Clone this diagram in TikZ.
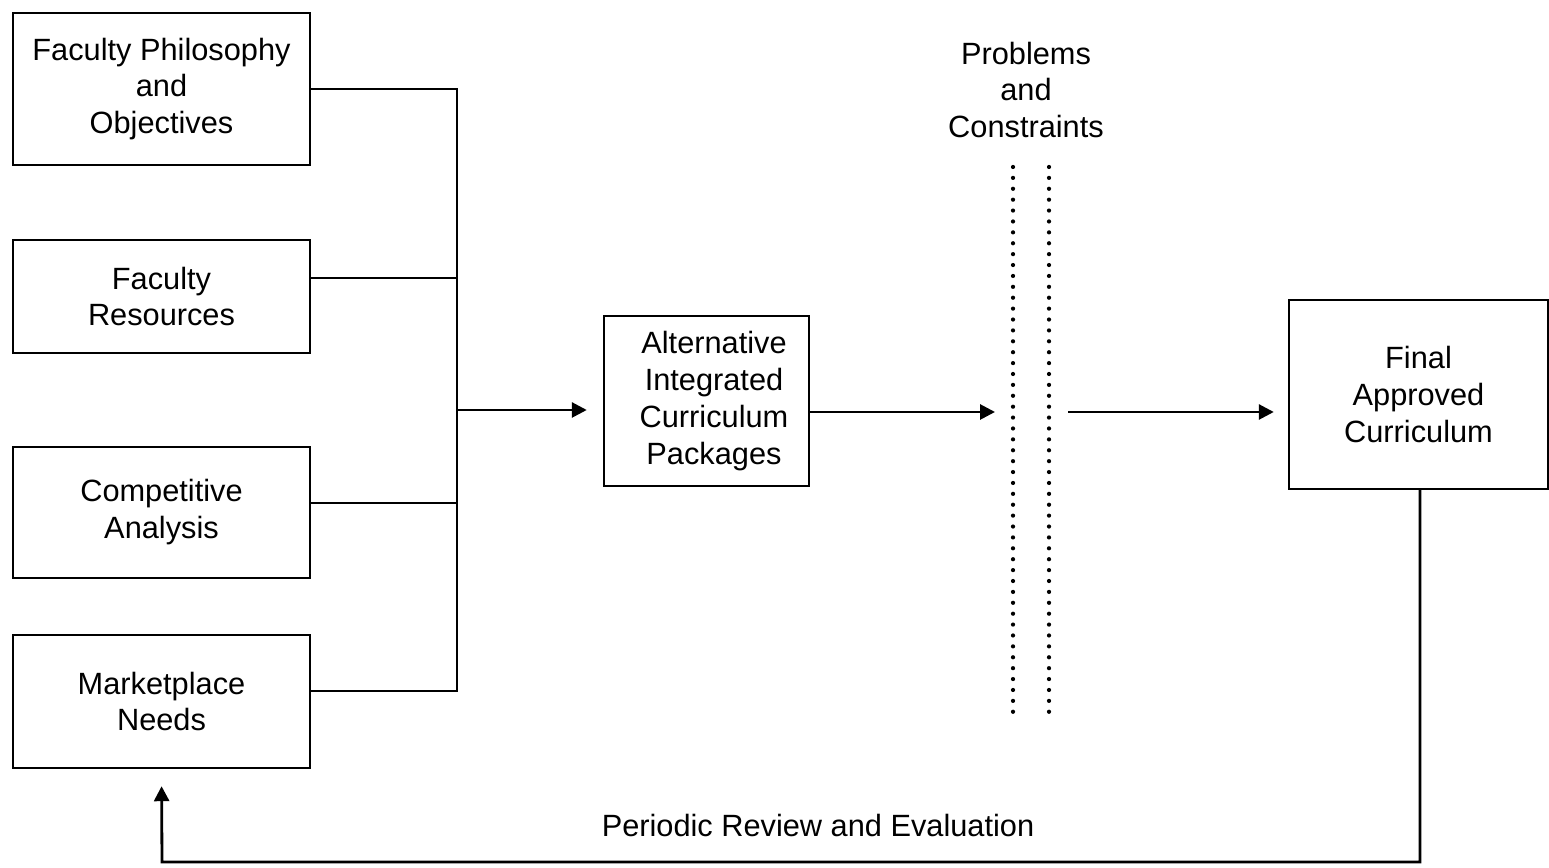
\documentclass[tikz,border=0pt]{standalone}
\usepackage{fontspec}
\setmainfont{Liberation Sans}
\usepackage{tikz}
\usetikzlibrary{arrows.meta,calc,positioning}

\tikzset{
	box/.style={draw,line width=1.4pt,align=center,inner sep=0pt,
		font=\fontsize{17.5}{21}\selectfont},
	lbl/.style={align=center,font=\fontsize{17.5}{21}\selectfont},
	arr/.style={line width=1.6pt,-{Triangle[length=0.3cm,width=0.3cm]}},
	wire/.style={line width=1.6pt},
	dots/.style={line width=2.4pt,line cap=round,dash pattern=on 0pt off 6.2pt}
}

\begin{document}
\begin{tikzpicture}
	\useasboundingbox (0,0) rectangle (30.98,17.36);
	% inputs
	\node[box,minimum width=5.94cm,minimum height=3.04cm] (phil) at (3.23,15.58) {Faculty Philosophy\\and\\Objectives};
	\node[box,minimum width=5.94cm,minimum height=2.26cm] (res) at (3.23,11.43) {Faculty\\Resources};
	\node[box,minimum width=5.94cm,minimum height=2.62cm] (comp) at (3.23,7.11) {Competitive\\Analysis};
	\node[box,minimum width=5.94cm,minimum height=2.66cm] (mkt) at (3.23,3.33) {Marketplace\\Needs};
	\node[box,minimum width=4.1cm,minimum height=3.4cm] (alt) at (14.13,9.34) {\hspace*{0.3cm}Alternative\\\hspace*{0.3cm}Integrated\\\hspace*{0.3cm}Curriculum\\\hspace*{0.3cm}Packages};
	\node[box,minimum width=5.18cm,minimum height=3.78cm] (final) at (28.37,9.47) {Final\\Approved\\Curriculum};
	
	% bus
	\coordinate (b1) at (9.14,15.58);
	\coordinate (b2) at (9.14,11.8);
	\coordinate (b3) at (9.14,7.3);
	\coordinate (b4) at (9.14,3.54);
	\coordinate (bm) at (9.14,9.16);
	\draw[wire] (phil.east |- b1) -- (b1) -- (b4) -- (mkt.east |- b4);
	\draw[wire] (res.east |- b2) -- (b2);
	\draw[wire] (comp.east |- b3) -- (b3);
	\draw[arr,shorten >=0.32cm] (bm) -- (alt.west |- bm);
	
	% problems and constraints
	\node[lbl] (prob) at (20.52,15.56) {Problems\\and\\Constraints};
	\draw[dots] (20.26,14.02) -- (20.26,3.06);
	\draw[dots] (20.98,14.02) -- (20.98,3.06);
	\coordinate (wallL) at (19.9,9.12);
	\coordinate (wallR) at (21.36,9.12);
	\draw[arr] (alt.east |- wallL) -- (wallL);
	\draw[arr,shorten >=0.28cm] (wallR) -- (final.west |- wallR);
	
	% feedback
	\coordinate (fb) at (3.24,0.12);
	\draw[arr,shorten >=0.34cm] (final.south -| 28.4,0) |- (fb) -- (mkt.south);
	\node[lbl] (rev) at (16.36,0.84) {Periodic Review and Evaluation};
\end{tikzpicture}
\end{document}
